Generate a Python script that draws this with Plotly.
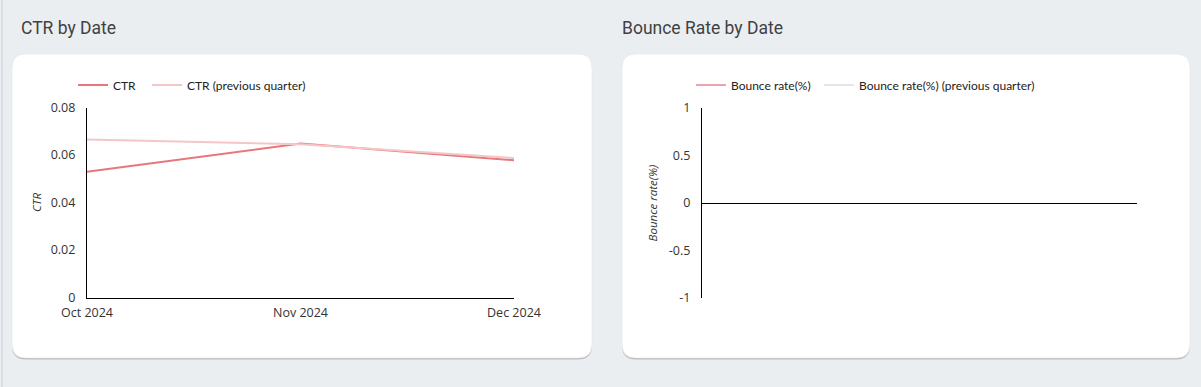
import plotly.graph_objects as go

W, H = 1201, 387

months = ["Oct 2024", "Nov 2024", "Dec 2024"]
ctr = [0.0529, 0.0648, 0.0578]
ctr_prev = [0.0665, 0.0645, 0.0587]
bounce = [None, None, None]
bounce_prev = [None, None, None]
ctr_ticks = [0, 0.02, 0.04, 0.06, 0.08]
bounce_ticks = [-1, -0.5, 0, 0.5, 1]

def px(x):
    return x / W

def py(y):
    return 1 - y / H

def rrect(x0, y0, x1, y1, r):
    pts = [
        f"M{px(x0 + r)},{py(y0)}",
        f"L{px(x1 - r)},{py(y0)}",
        f"Q{px(x1)},{py(y0)} {px(x1)},{py(y0 + r)}",
        f"L{px(x1)},{py(y1 - r)}",
        f"Q{px(x1)},{py(y1)} {px(x1 - r)},{py(y1)}",
        f"L{px(x0 + r)},{py(y1)}",
        f"Q{px(x0)},{py(y1)} {px(x0)},{py(y1 - r)}",
        f"L{px(x0)},{py(y0 + r)}",
        f"Q{px(x0)},{py(y0)} {px(x0 + r)},{py(y0)}",
        "Z",
    ]
    return " ".join(pts)

fig = go.Figure()

fig.add_trace(go.Scatter(x=months, y=ctr, mode="lines", name="CTR",
                         line=dict(color="#e8777c", width=2),
                         xaxis="x", yaxis="y", legend="legend"))
fig.add_trace(go.Scatter(x=months, y=ctr_prev, mode="lines", name="CTR (previous quarter)",
                         line=dict(color="#f5c6c8", width=2),
                         xaxis="x", yaxis="y", legend="legend2"))
fig.add_trace(go.Scatter(x=months, y=bounce, mode="lines", name="Bounce rate(%)",
                         line=dict(color="#eaa3ab", width=2),
                         xaxis="x2", yaxis="y2", legend="legend3"))
fig.add_trace(go.Scatter(x=months, y=bounce_prev, mode="lines", name="Bounce rate(%) (previous quarter)",
                         line=dict(color="#e3e5ea", width=2),
                         xaxis="x2", yaxis="y2", legend="legend4"))

tickfont = dict(family="Open Sans, sans-serif", size=12.5, color="#333333")
legfont = dict(family="Lato, sans-serif", size=12, color="#222222")
titlefont = dict(family="Open Sans, sans-serif", size=11.5, color="#333333")

def leg(xtext):
    # legend item text starts 40px right of the legend's left edge
    return dict(orientation="h", x=px(xtext - 40), y=py(85), xanchor="left", yanchor="middle",
                xref="container", yref="container",
                font=legfont, bgcolor="rgba(0,0,0,0)", itemclick=False, itemdoubleclick=False)

shapes = [
    dict(type="line", xref="paper", yref="paper", layer="below",
         x0=px(2), x1=px(2), y0=0, y1=1, line=dict(color="#dadde1", width=2)),
]
for (x0, x1) in [(12, 592), (622, 1190)]:
    shapes.append(dict(type="path", xref="paper", yref="paper", layer="below",
                       path=rrect(x0, 55, x1, 359.5, 14),
                       fillcolor="#b9bcc0", line=dict(width=0)))
    shapes.append(dict(type="path", xref="paper", yref="paper", layer="below",
                       path=rrect(x0, 54, x1, 358, 14),
                       fillcolor="#ffffff", line=dict(color="#e2e5e8", width=0.6)))

fig.update_layout(
    width=W, height=H,
    margin=dict(l=0, r=0, t=0, b=0, pad=0, autoexpand=False),
    paper_bgcolor="#ebeef1",
    plot_bgcolor="rgba(0,0,0,0)",
    shapes=shapes,
    showlegend=True,
    xaxis=dict(domain=[px(87), px(514)], anchor="y", type="category",
               range=[0, 2], showgrid=False, zeroline=False, automargin=False,
               showline=True, linecolor="#000000", linewidth=1.2,
               ticks="", tickfont=tickfont, ticklabelstandoff=3, fixedrange=True),
    yaxis=dict(domain=[py(297.5), py(107.5)], anchor="x", range=[0, 0.08],
               tickvals=ctr_ticks, ticktext=["0", "0.02", "0.04", "0.06", "0.08"],
               showgrid=False, zeroline=False, showline=True, automargin=False,
               linecolor="#000000", linewidth=1.2, ticks="", tickfont=tickfont,
               ticklabelstandoff=8,
               title=dict(text="<i>CTR</i>", font=titlefont, standoff=6)),
    xaxis2=dict(domain=[px(702), px(1137)], anchor="y2", type="category",
                categoryarray=months, range=[0, 2], showgrid=False, zeroline=False,
                automargin=False,
                showline=False, showticklabels=False, ticks=""),
    yaxis2=dict(domain=[py(298), py(108)], anchor="x2", range=[-1, 1],
                tickvals=bounce_ticks, ticktext=["-1", "-0.5", "0", "0.5", "1"],
                showgrid=False, zeroline=True, zerolinecolor="#000000", zerolinewidth=1.2,
                showline=True, linecolor="#000000", linewidth=1.2, ticks="",
                tickfont=tickfont, automargin=False, ticklabelstandoff=8,
                title=dict(text="<i>Bounce rate(%)</i>", font=titlefont, standoff=8)),
    legend=leg(113),
    legend2=leg(187),
    legend3=leg(731),
    legend4=leg(859),
    annotations=[
        dict(text="CTR by Date", xref="paper", yref="paper", x=px(18.5), y=py(28),
             xanchor="left", yanchor="middle", showarrow=False,
             font=dict(family="Roboto, sans-serif", size=17.5, color="#3f4144")),
        dict(text="Bounce Rate by Date", xref="paper", yref="paper", x=px(619.5), y=py(28),
             xanchor="left", yanchor="middle", showarrow=False,
             font=dict(family="Roboto, sans-serif", size=17.5, color="#3f4144")),
    ],
)

fig.write_html("out.html", config={"displayModeBar": False},
               post_script="document.body.style.margin='0';document.body.style.overflow='hidden';document.body.style.background='#ebeef1';")
